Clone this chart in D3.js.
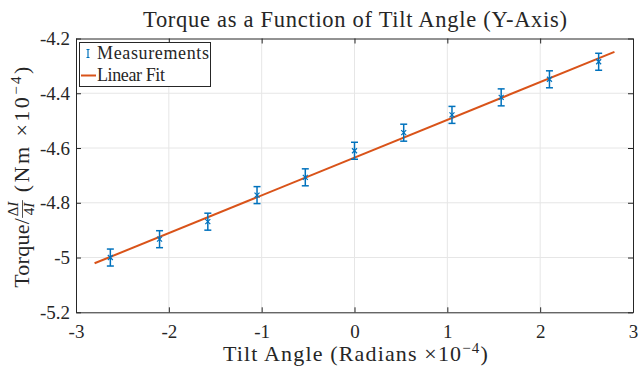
<!DOCTYPE html>
<html>
<head>
<meta charset="utf-8">
<script src="https://cdn.jsdelivr.net/npm/d3@7"></script>
<style>
  body { margin: 0; background: #fff; }
  svg { display: block; }
  text { font-family: "Liberation Serif", "Times New Roman", serif; fill: #262626; }
</style>
</head>
<body>
<svg id="chart" width="639" height="366"></svg>
<script>
// tilt angle (radians x1e-4) and measured torque / (dI/4I) (Nm x1e-4)
var angle  = [-2.63, -2.10, -1.58, -1.05, -0.53, 0, 0.53, 1.05, 1.58, 2.10, 2.63];
var torque = [-5.000, -4.933, -4.869, -4.772, -4.707, -4.610, -4.544, -4.479, -4.415, -4.349, -4.285];
var errBar = [0.031, 0.031, 0.031, 0.031, 0.031, 0.031, 0.031, 0.031, 0.031, 0.031, 0.031];

// linear fit end points
var fitX = [-2.8, 2.8];
var fitY = [-5.021, -4.249];

var xTicks = [-3, -2, -1, 0, 1, 2, 3];
var xTickLabels = ["-3", "-2", "-1", "0", "1", "2", "3"];
var yTicks = [-5.2, -5, -4.8, -4.6, -4.4, -4.2];
var yTickLabels = ["-5.2", "-5", "-4.8", "-4.6", "-4.4", "-4.2"];

var blue = "#0072BD", orange = "#D95319", axisCol = "#262626";
var serif = '"Liberation Serif", "Times New Roman", serif';

var svg = d3.select("#chart");

var x = d3.scaleLinear().domain([-3, 3]).range([76, 633]);
var y = d3.scaleLinear().domain([-5.2, -4.2]).range([312.3, 38.5]);

// widen a text to a target width using letter spacing
function spreadTo(sel, target) {
  var w = sel.node().getComputedTextLength();
  var n = sel.text().length;
  sel.style("letter-spacing", ((target - w) / n) + "px");
}

// grid
var grid = svg.append("g");
grid.selectAll(".gx").data(xTicks.slice(1, -1)).enter().append("line")
  .attr("x1", d => x(d)).attr("x2", d => x(d))
  .attr("y1", y(-5.2)).attr("y2", y(-4.2))
  .attr("stroke", "#e6e6e6").attr("stroke-width", 1);
grid.selectAll(".gy").data(yTicks.slice(1, -1)).enter().append("line")
  .attr("y1", d => y(d)).attr("y2", d => y(d))
  .attr("x1", x(-3)).attr("x2", x(3))
  .attr("stroke", "#e6e6e6").attr("stroke-width", 1);

// axes (ticks inside, box on)
var xAxis = svg.append("g").attr("transform", "translate(0," + y(-5.2) + ")")
  .call(d3.axisBottom(x).tickValues(xTicks).tickSizeInner(-5).tickSizeOuter(0).tickPadding(12)
    .tickFormat((d, i) => xTickLabels[i]));
var xAxisTop = svg.append("g").attr("transform", "translate(0," + y(-4.2) + ")")
  .call(d3.axisTop(x).tickValues(xTicks).tickSizeInner(-5).tickSizeOuter(0).tickFormat(""));
var yAxis = svg.append("g").attr("transform", "translate(" + x(-3) + ",0)")
  .call(d3.axisLeft(y).tickValues(yTicks).tickSizeInner(-5).tickSizeOuter(0).tickPadding(6)
    .tickFormat((d, i) => yTickLabels[i]));
var yAxisRight = svg.append("g").attr("transform", "translate(" + x(3) + ",0)")
  .call(d3.axisRight(y).tickValues(yTicks).tickSizeInner(-5).tickSizeOuter(0).tickFormat(""));

[xAxis, xAxisTop, yAxis, yAxisRight].forEach(function(a) {
  a.attr("font-family", serif).attr("font-size", 19);
  a.select(".domain").attr("stroke", axisCol).attr("stroke-width", 1);
  a.selectAll(".tick line").attr("stroke", axisCol);
  a.selectAll("text").style("font-family", serif).style("font-size", "19px").attr("fill", axisCol);
});

// linear fit
svg.append("line")
  .attr("x1", x(fitX[0])).attr("y1", y(fitY[0]))
  .attr("x2", x(fitX[1])).attr("y2", y(fitY[1]))
  .attr("stroke", orange).attr("stroke-width", 2);

// error bars
var pts = angle.map((a, i) => ({a: a, t: torque[i], e: errBar[i]}));
var eb = svg.append("g").attr("stroke", blue).attr("stroke-width", 1.5).attr("fill", "none");
var g = eb.selectAll("g").data(pts).enter().append("g");
g.append("line").attr("x1", d => x(d.a)).attr("x2", d => x(d.a))
  .attr("y1", d => y(d.t - d.e)).attr("y2", d => y(d.t + d.e));
g.append("line").attr("x1", d => x(d.a) - 3.5).attr("x2", d => x(d.a) + 3.5)
  .attr("y1", d => y(d.t - d.e)).attr("y2", d => y(d.t - d.e));
g.append("line").attr("x1", d => x(d.a) - 3.5).attr("x2", d => x(d.a) + 3.5)
  .attr("y1", d => y(d.t + d.e)).attr("y2", d => y(d.t + d.e));
// x markers
g.append("path")
  .attr("d", d => {
    var cx = x(d.a), cy = y(d.t), s = 2.5;
    return "M" + (cx - s) + "," + (cy - s) + "L" + (cx + s) + "," + (cy + s) +
           "M" + (cx - s) + "," + (cy + s) + "L" + (cx + s) + "," + (cy - s);
  })
  .attr("stroke-width", 1.2);

// legend
var leg = svg.append("g");
leg.append("rect").attr("x", 79.5).attr("y", 42.5).attr("width", 131).attr("height", 44)
  .attr("fill", "#fff").attr("stroke", axisCol).attr("stroke-width", 1);
leg.append("line").attr("x1", 88).attr("x2", 88).attr("y1", 49.5).attr("y2", 57.5)
  .attr("stroke", blue).attr("stroke-width", 1.2);
leg.append("line").attr("x1", 86.5).attr("x2", 89.5).attr("y1", 49.5).attr("y2", 49.5).attr("stroke", blue);
leg.append("line").attr("x1", 86.5).attr("x2", 89.5).attr("y1", 57.5).attr("y2", 57.5).attr("stroke", blue);
leg.append("line").attr("x1", 81).attr("x2", 96).attr("y1", 75.5).attr("y2", 75.5)
  .attr("stroke", orange).attr("stroke-width", 2);
leg.append("text").attr("x", 97).attr("y", 59).attr("font-size", 18)
  .attr("textLength", 112).attr("lengthAdjust", "spacing").text("Measurements");
leg.append("text").attr("x", 97).attr("y", 81).attr("font-size", 18)
  .attr("textLength", 68).attr("lengthAdjust", "spacing").text("Linear Fit");

// title
svg.append("text").attr("x", 355).attr("y", 27).attr("text-anchor", "middle")
  .attr("font-size", 22.5).attr("textLength", 424).attr("lengthAdjust", "spacing")
  .text("Torque as a Function of Tilt Angle (Y-Axis)");

// x label
var xl = svg.append("text").attr("x", 356).attr("y", 361).attr("text-anchor", "middle").attr("font-size", 22);
xl.append("tspan").text("Tilt Angle (Radians \u00d710");
xl.append("tspan").attr("dy", -8).attr("font-size", 15).text("\u22124");
xl.append("tspan").attr("dy", 8).text(")");
spreadTo(xl, 266);

// y label, rotated
var yl = svg.append("g").attr("transform", "translate(29,176) rotate(-90)");
var part1 = yl.append("text").attr("font-size", 22).text("Torque/");
spreadTo(part1, 70);
var w1 = part1.node().getComputedTextLength();
var num = yl.append("text").attr("font-size", 15).attr("text-anchor", "middle");
num.append("tspan").text("\u0394");
num.append("tspan").attr("font-style", "italic").text("I");
var den = yl.append("text").attr("font-size", 15).attr("text-anchor", "middle");
den.append("tspan").text("4");
den.append("tspan").attr("font-style", "italic").text("I");
var fw = Math.max(num.node().getComputedTextLength(), den.node().getComputedTextLength()) + 3;
var part3 = yl.append("text").attr("font-size", 22);
part3.append("tspan").text("(Nm \u00d710");
part3.append("tspan").attr("dy", -8).attr("font-size", 15).text("\u22124");
part3.append("tspan").attr("dy", 8).text(")");
spreadTo(part3, 128);
var w3 = part3.node().getComputedTextLength();
var total = w1 + fw + 8 + w3;
var x0 = -total / 2;
part1.attr("x", x0);
num.attr("x", x0 + w1 + fw / 2).attr("y", -11);
den.attr("x", x0 + w1 + fw / 2).attr("y", 5);
yl.append("line").attr("x1", x0 + w1).attr("x2", x0 + w1 + fw).attr("y1", -6.5).attr("y2", -6.5)
  .attr("stroke", axisCol).attr("stroke-width", 0.8);
part3.attr("x", x0 + w1 + fw + 8);
</script>
</body>
</html>
